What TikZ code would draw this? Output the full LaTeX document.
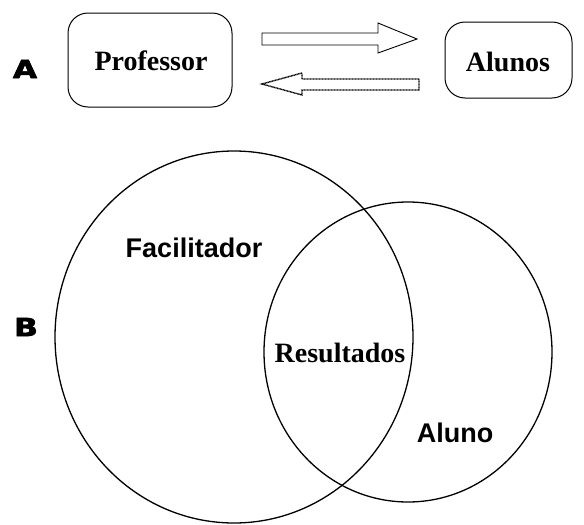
\documentclass[tikz,border=0pt]{standalone}
\usepackage{fontspec}
\setmainfont{Liberation Serif}
\setsansfont{Liberation Sans}
\newfontfamily\heavyfont{DejaVu Sans Bold}[FakeBold=2.5]
\usetikzlibrary{shapes.arrows}
\begin{document}
\begin{tikzpicture}[x=1pt,y=-1pt,
  boxstyle/.style={draw, rounded corners=20pt, line width=1pt},
  serifbold/.style={font=\fontsize{28}{30}\selectfont\rmfamily\bfseries},
  sansbold/.style={font=\fontsize{27}{29}\selectfont\sffamily\bfseries},
  letterstyle/.style={font=\fontsize{25}{27}\selectfont\heavyfont, xscale=1.25},
  circstyle/.style={draw, line width=1.3pt}
]
\useasboundingbox (0,0) rectangle (584,525);
% Part A
\node[letterstyle] (la) at (25,69) {A};
\draw[boxstyle] (68,13) rectangle (232,107);
\node[serifbold] (prof) at (151,61) {Professor};
\draw[boxstyle] (445,22) rectangle (572,98);
\node[serifbold] (alunos) at (508,62) {Alunos};
% top arrow (hollow, pointing right)
\draw[line width=0.9pt] (262,33) -- (378,33) -- (378,23) -- (417,39) -- (378,53) -- (378,45) -- (262,45) -- cycle;
% bottom arrow (dotted outline, pointing left)
\draw[line width=1.4pt, dash pattern=on 1pt off 0.5pt] (419,79) -- (302,79) -- (302,73) -- (262,84) -- (302,95) -- (302,90) -- (419,90) -- cycle;
% Part B
\node[letterstyle] (lb) at (26,327) {B};
\draw[circstyle] (234,337) ellipse [x radius=179, y radius=186];
\draw[circstyle] (408,352) ellipse [x radius=144, y radius=150];
\node[sansbold] (fac) at (194,248) {Facilitador};
\node[serifbold] (res) at (340,353) {Resultados};
\node[sansbold] (alu) at (455,433) {Aluno};
\end{tikzpicture}
\end{document}
